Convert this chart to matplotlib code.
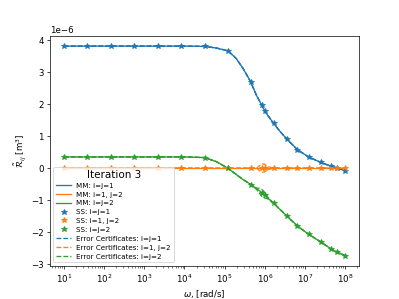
import numpy as np
import matplotlib.pyplot as plt

# frecuencias (log10) de la curva MM
mm_logw = [1, 2, 3, 4, 4.5, 4.8, 5.09, 5.29, 5.46, 5.65, 5.8, 5.87, 5.93, 6.0,
           6.07, 6.22, 6.4, 6.55, 6.81, 7.09, 7.39, 7.65, 7.79, 8.0]
mm_11 = [3.82, 3.82, 3.82, 3.82, 3.81, 3.76, 3.67, 3.43, 3.12, 2.70, 2.26, 2.10,
         1.95, 1.79, 1.66, 1.40, 1.12, 0.91, 0.58, 0.35, 0.18, 0.06, 0.01, -0.08]
mm_12 = [0.0] * len(mm_logw)
mm_22 = [0.35, 0.35, 0.35, 0.35, 0.33, 0.20, -0.01, -0.20, -0.36, -0.51, -0.65,
         -0.71, -0.78, -0.85, -0.93, -1.10, -1.32, -1.50, -1.81, -2.07, -2.31,
         -2.53, -2.63, -2.74]

# certificados de error (semi-ancho de la banda)
err_11 = [0.0] * len(mm_logw)
err_12 = [0, 0, 0, 0, 0, 0, 0, 0, 0, 0, 0.0, 0.08, 0.13, 0.12, 0.05, 0,
          0, 0, 0, 0, 0, 0, 0, 0]
err_22 = [0, 0, 0, 0, 0, 0, 0, 0, 0, 0, 0.02, 0.08, 0.11, 0.09, 0.03, 0,
          0, 0, 0, 0, 0, 0, 0, 0]

# puntos SS
ss_logw = [1, 1.583, 2.167, 2.75, 3.333, 3.917, 4.5, 5.083, 5.667, 5.92, 6.0,
           6.22, 6.55, 6.81, 7.09, 7.39, 7.65, 7.79, 8.0]
ss_11 = [3.82, 3.82, 3.82, 3.82, 3.82, 3.82, 3.81, 3.67, 2.70, 1.97, 1.79, 1.40,
         0.91, 0.58, 0.35, 0.18, 0.06, 0.01, -0.08]
ss_12 = [0.0] * len(ss_logw)
ss_22 = [0.35, 0.35, 0.35, 0.35, 0.35, 0.35, 0.33, -0.01, -0.52, -0.77, -0.85,
         -1.10, -1.50, -1.81, -2.07, -2.31, -2.53, -2.63, -2.74]

w = 10 ** np.array(mm_logw)
ws = 10 ** np.array(ss_logw)
scale = 1e-6

fig = plt.figure(figsize=(6.4, 4.8), dpi=62.35)
ax = fig.gca()

names = ["i=j=1", "i=1, j=2", "i=j=2"]
mm = [mm_11, mm_12, mm_22]
ss = [ss_11, ss_12, ss_22]
err = [err_11, err_12, err_22]
colors = ["C0", "C1", "C2"]

for vals, c, n in zip(mm, colors, names):
    ax.plot(w, np.array(vals) * scale, color=c, label="MM: " + n)
for vals, c, n in zip(ss, colors, names):
    ax.plot(ws, np.array(vals) * scale, "*", color=c, markersize=6.5,
            label="SS: " + n)
for vals, e, c, n in zip(mm, err, colors, names):
    v = np.array(vals)
    e = np.array(e)
    ax.plot(w, (v + e) * scale, "--", color=c, label="Error Certificates: " + n)
    ax.plot(w, (v - e) * scale, "--", color=c)

ax.set_xscale("log")
ax.set_xlabel(r"$\omega$, [rad/s]")
ax.set_ylabel(r"$\tilde{\mathcal{R}}_{ij}$ [m$^3$]")
ax.legend(title="Iteration 3", loc="lower left", fontsize=8.3, title_fontsize=12,
          labelspacing=0.4)

fig.savefig("out.png", dpi=62.35)
